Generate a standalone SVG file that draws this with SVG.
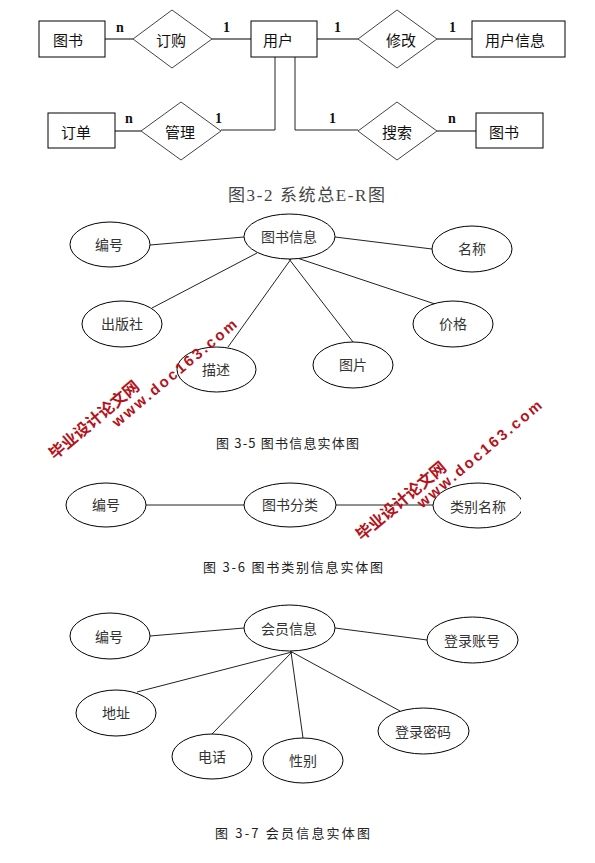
<svg xmlns="http://www.w3.org/2000/svg" width="595" height="863" viewBox="0 0 595 863">
<style>
.r{fill:#fff;stroke:#000;stroke-width:1}
.d{fill:#fff;stroke:#444;stroke-width:1}
.e{fill:#fff;stroke:#000;stroke-width:1}
.c{fill:none;stroke:#555;stroke-width:1.5}
.l{fill:none;stroke:#222;stroke-width:1}
.t{font-family:"Noto Sans CJK SC","Noto Sans",sans-serif;font-size:15px;fill:#111;dominant-baseline:central}
.m{text-anchor:middle}
.a{font-family:"Noto Sans CJK SC","Noto Sans",sans-serif;font-size:14px;fill:#333;text-anchor:middle;dominant-baseline:central}
.n{font-family:"Liberation Serif",serif;font-size:14px;font-weight:bold;fill:#111}
.cap{font-family:"Noto Sans CJK SC","Noto Sans",sans-serif;font-size:13px;fill:#222}
.cap2{font-family:"Liberation Serif","Noto Sans CJK SC",serif;font-size:17px;fill:#444}
.w{font-family:"Liberation Sans","Noto Sans CJK SC",sans-serif;font-weight:bold;fill:#b3141c;text-anchor:middle;dominant-baseline:central}
</style>
<defs><clipPath id="clip1"><rect x="0" y="470" width="521" height="70"/></clipPath></defs>

<!-- connectors -->
<g id="connectors">
<line class="c" x1="105" y1="39" x2="133" y2="39"/>
<line class="c" x1="212" y1="39" x2="251" y2="39"/>
<line class="c" x1="317" y1="39" x2="358" y2="39"/>
<line class="c" x1="437" y1="39" x2="472" y2="39"/>
<line class="c" x1="115" y1="131" x2="141" y2="131"/>
<polyline class="l" points="275,57 275,130 221,130"/>
<polyline class="l" points="295,57 295,130 358,130"/>
<line class="c" x1="437" y1="131" x2="476" y2="131"/>

<line class="l" x1="150" y1="245" x2="244" y2="237"/>
<line class="l" x1="152" y1="308" x2="257" y2="253"/>
<line class="l" x1="228" y1="347" x2="291" y2="259"/>
<line class="l" x1="289" y1="259" x2="353" y2="342"/>
<line class="l" x1="297" y1="258" x2="435" y2="304"/>
<line class="l" x1="335" y1="237" x2="432" y2="249"/>

<line class="l" x1="146" y1="505" x2="244" y2="505"/>
<line class="l" x1="336" y1="505" x2="433" y2="505"/>

<line class="l" x1="150" y1="636" x2="244" y2="628"/>
<line class="l" x1="137" y1="692" x2="292" y2="652"/>
<line class="l" x1="212" y1="734" x2="292" y2="652"/>
<line class="l" x1="303" y1="738" x2="291" y2="652"/>
<line class="l" x1="290" y1="651" x2="400" y2="711"/>
<line class="l" x1="335" y1="628" x2="427" y2="640"/>
</g>

<!-- cardinalities -->
<g id="cardinalities">
<text class="n" x="116" y="32">n</text>
<text class="n" x="223" y="32">1</text>
<text class="n" x="334" y="32">1</text>
<text class="n" x="449" y="32">1</text>
<text class="n" x="125" y="123">n</text>
<text class="n" x="215" y="123">1</text>
<text class="n" x="329" y="123">1</text>
<text class="n" x="448" y="123">n</text>
</g>

<!-- ER top -->
<g id="book1"><rect class="r" x="39" y="21" width="66" height="36"/><text class="t" x="53" y="39">图书</text></g>
<g id="order_rel"><polygon class="d" points="133,39 172,10 212,39 172,68"/><text class="t m" x="171" y="39">订购</text></g>
<g id="user"><rect class="r" x="251" y="21" width="66" height="36"/><text class="t" x="263" y="39">用户</text></g>
<g id="modify_rel"><polygon class="d" points="358,39 397,10 437,39 397,68"/><text class="t m" x="401" y="39">修改</text></g>
<g id="userinfo"><rect class="r" x="472" y="21" width="93" height="36"/><text class="t" x="485" y="39">用户信息</text></g>
<g id="orders"><rect class="r" x="48" y="113" width="67" height="35"/><text class="t" x="61" y="131">订单</text></g>
<g id="manage_rel"><polygon class="d" points="141,131 181,102 221,131 181,160"/><text class="t m" x="180" y="131">管理</text></g>
<g id="search_rel"><polygon class="d" points="358,131 397,102 437,131 397,160"/><text class="t m" x="397" y="131">搜索</text></g>
<g id="book2"><rect class="r" x="476" y="113" width="67" height="35"/><text class="t" x="489" y="131">图书</text></g>

<text class="cap2" x="228" y="201" textLength="157" lengthAdjust="spacing">图3-2 系统总E-R图</text>

<!-- book info entity -->
<g id="bookinfo"><ellipse class="e" cx="289.5" cy="236.5" rx="45.5" ry="22.5"/><text class="a" x="289" y="236">图书信息</text></g>
<g id="b_id"><ellipse class="e" cx="110" cy="244.5" rx="40" ry="22.5"/><text class="a" x="109" y="244">编号</text></g>
<g id="b_pub"><ellipse class="e" cx="122" cy="324" rx="40" ry="23"/><text class="a" x="122" y="323">出版社</text></g>
<g id="b_desc"><ellipse class="e" cx="216.5" cy="369.5" rx="39.5" ry="22.5"/><text class="a" x="216" y="369">描述</text></g>
<g id="b_name"><ellipse class="e" cx="472" cy="249" rx="40" ry="23"/><text class="a" x="472" y="248">名称</text></g>
<g id="b_price"><ellipse class="e" cx="453" cy="324" rx="40" ry="23"/><text class="a" x="453" y="323">价格</text></g>
<g id="b_pic"><ellipse class="e" cx="353" cy="365" rx="40" ry="23"/><text class="a" x="353" y="364">图片</text></g>
<text class="cap" x="216" y="448" textLength="143" lengthAdjust="spacing">图 3-5 图书信息实体图</text>

<!-- category entity -->
<g id="c_id"><ellipse class="e" cx="106" cy="505" rx="40" ry="22"/><text class="a" x="106" y="504">编号</text></g>
<g id="category"><ellipse class="e" cx="290" cy="505" rx="46" ry="22"/><text class="a" x="290" y="504">图书分类</text></g>
<g id="c_name" clip-path="url(#clip1)"><ellipse class="e" cx="478" cy="505.5" rx="45" ry="22.5"/><text class="a" x="478" y="506">类别名称</text></g>
<text class="cap" x="203" y="572" textLength="180" lengthAdjust="spacing">图 3-6 图书类别信息实体图</text>

<!-- member entity -->
<g id="member"><ellipse class="e" cx="289.5" cy="628" rx="45.5" ry="23"/><text class="a" x="289" y="628">会员信息</text></g>
<g id="m_id"><ellipse class="e" cx="110" cy="636" rx="40" ry="23"/><text class="a" x="109" y="636">编号</text></g>
<g id="m_addr"><ellipse class="e" cx="116" cy="713" rx="40" ry="23"/><text class="a" x="116" y="712">地址</text></g>
<g id="m_tel"><ellipse class="e" cx="212" cy="756.5" rx="40" ry="22.5"/><text class="a" x="212" y="756">电话</text></g>
<g id="m_sex"><ellipse class="e" cx="303" cy="760.5" rx="40" ry="22.5"/><text class="a" x="303" y="760">性别</text></g>
<g id="m_acc"><ellipse class="e" cx="472.5" cy="640" rx="45.5" ry="23"/><text class="a" x="472" y="640">登录账号</text></g>
<g id="m_pwd"><ellipse class="e" cx="423.5" cy="731" rx="45.5" ry="23"/><text class="a" x="423" y="731">登录密码</text></g>
<text class="cap" x="215" y="838" textLength="155" lengthAdjust="spacing">图 3-7  会员信息实体图</text>

<!-- watermarks -->
<g id="watermark1">
<text class="w" font-size="16" transform="translate(94,420) rotate(-40)">毕业设计论文网</text>
<text class="w" font-size="15" letter-spacing="2.5" transform="translate(175,372) rotate(-40)">www.doc163.com</text>
</g>
<g id="watermark2">
<text class="w" font-size="16" transform="translate(401,501) rotate(-40)">毕业设计论文网</text>
<text class="w" font-size="15" letter-spacing="2.5" transform="translate(480,453) rotate(-40)">www.doc163.com</text>
</g>
</svg>
